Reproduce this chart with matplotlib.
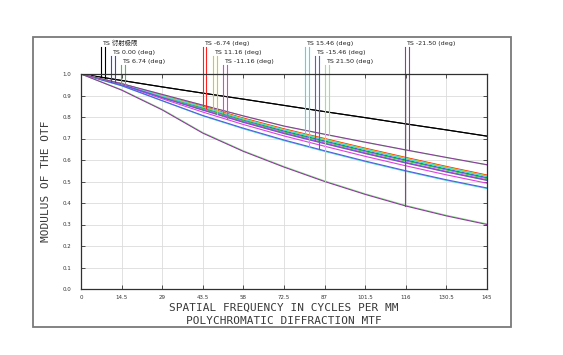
import numpy as np
import matplotlib
matplotlib.use('Agg')
import matplotlib.pyplot as plt
from matplotlib.patches import Rectangle

# spatial frequency samples (cycles/mm)
freq = [0, 14.5, 29, 43.5, 58, 72.5, 87, 101.5, 116, 130.5, 145]
xtick_labels = ['0', '14.5', '29', '43.5', '58', '72.5', '87', '101.5', '116', '130.5', '145']
ytick_labels = ['0.0', '0.1', '0.2', '0.3', '0.4', '0.5', '0.6', '0.7', '0.8', '0.9', '1.0']

# MTF values, tangential / sagittal per field
diff_t = [1.0, 0.970, 0.940, 0.911, 0.883, 0.854, 0.825, 0.797, 0.768, 0.740, 0.711]
diff_s = [1.0, 0.970, 0.940, 0.911, 0.883, 0.854, 0.825, 0.797, 0.768, 0.740, 0.711]
f000_t = [1.0, 0.953, 0.895, 0.841, 0.785, 0.734, 0.688, 0.642, 0.599, 0.557, 0.517]
f000_s = [1.0, 0.953, 0.894, 0.840, 0.784, 0.733, 0.687, 0.641, 0.598, 0.556, 0.516]
f674_t = [1.0, 0.954, 0.898, 0.846, 0.790, 0.740, 0.694, 0.649, 0.606, 0.564, 0.524]
f674_s = [1.0, 0.953, 0.894, 0.839, 0.783, 0.731, 0.685, 0.639, 0.596, 0.554, 0.514]
fm674_t = [1.0, 0.955, 0.900, 0.850, 0.795, 0.745, 0.700, 0.655, 0.612, 0.570, 0.530]
fm674_s = [1.0, 0.954, 0.899, 0.848, 0.792, 0.742, 0.697, 0.652, 0.609, 0.567, 0.527]
f1116_t = [1.0, 0.954, 0.899, 0.848, 0.792, 0.742, 0.697, 0.652, 0.609, 0.567, 0.527]
f1116_s = [1.0, 0.951, 0.891, 0.833, 0.776, 0.724, 0.677, 0.631, 0.587, 0.545, 0.506]
fm1116_t = [1.0, 0.952, 0.891, 0.834, 0.778, 0.726, 0.679, 0.633, 0.589, 0.547, 0.508]
fm1116_s = [1.0, 0.949, 0.885, 0.823, 0.765, 0.712, 0.664, 0.617, 0.573, 0.531, 0.492]
f1546_t = [1.0, 0.954, 0.898, 0.846, 0.790, 0.740, 0.694, 0.649, 0.606, 0.564, 0.524]
f1546_s = [1.0, 0.945, 0.875, 0.805, 0.745, 0.690, 0.640, 0.592, 0.547, 0.505, 0.467]
fm1546_t = [1.0, 0.951, 0.890, 0.832, 0.775, 0.723, 0.676, 0.630, 0.586, 0.544, 0.505]
fm1546_s = [1.0, 0.946, 0.876, 0.807, 0.748, 0.693, 0.643, 0.595, 0.550, 0.508, 0.470]
f2150_t = [1.0, 0.927, 0.836, 0.728, 0.643, 0.570, 0.503, 0.443, 0.389, 0.343, 0.303]
f2150_s = [1.0, 0.955, 0.905, 0.855, 0.805, 0.757, 0.719, 0.682, 0.646, 0.611, 0.577]
fm2150_t = [1.0, 0.925, 0.833, 0.725, 0.640, 0.567, 0.500, 0.440, 0.386, 0.340, 0.300]
fm2150_s = [1.0, 0.955, 0.905, 0.855, 0.805, 0.758, 0.720, 0.683, 0.647, 0.612, 0.578]

labels = ['TS 衍射极限', 'TS 0.00 (deg)', 'TS 6.74 (deg)', 'TS -6.74 (deg)', 'TS 11.16 (deg)',
          'TS -11.16 (deg)', 'TS 15.46 (deg)', 'TS -15.46 (deg)', 'TS 21.50 (deg)', 'TS -21.50 (deg)']
colors = ['#000000', '#3c3cff', '#3cc83c', '#ff2020', '#d2d200',
          '#e040e0', '#40e0e0', '#5a5adc', '#90e890', '#8c3c9c']
tang = [diff_t, f000_t, f674_t, fm674_t, f1116_t, fm1116_t, f1546_t, fm1546_t, f2150_t, fm2150_t]
sagi = [diff_s, f000_s, f674_s, fm674_s, f1116_s, fm1116_s, f1546_s, fm1546_s, f2150_s, fm2150_s]

# where the legend markers sit along the frequency axis
mark_x = [7.2, 10.8, 14.4, 43.5, 47.1, 50.7, 80.0, 83.6, 87.1, 115.7]
mark_top = [1.125, 1.084, 1.044]

W, H = 563, 355
fig = plt.figure(figsize=(W / 100, H / 100), dpi=100)
fig.patch.set_facecolor('white')

# outer frame
fig.add_artist(Rectangle((33 / W, 28 / H), 478 / W, 290 / H, transform=fig.transFigure,
                         fill=False, edgecolor='#7a7a7a', lw=1.3))

ax = fig.add_axes([81 / W, 66 / H, 406 / W, 215 / H])

fr = np.array(freq)
for i in range(len(labels)):
    ax.plot(fr, tang[i], color=colors[i], lw=0.8)
    ax.plot(fr, sagi[i], color=colors[i], lw=0.8)

# legend: label text and T/S drop lines down to the curves
for i, lab in enumerate(labels):
    top = mark_top[i % 3]
    x1 = mark_x[i]
    x2 = x1 + 1.3
    y1 = np.interp(x1, fr, tang[i])
    y2 = np.interp(x2, fr, sagi[i])
    ax.plot([x1, x1], [top, y1], color=colors[i], lw=0.8, clip_on=False)
    ax.plot([x2, x2], [top, y2], color=colors[i], lw=0.8, clip_on=False)
    ax.text(x1 + 0.4, top + 0.004, lab, fontsize=4.6, va='bottom', ha='left', color='#222222',
            family=['Liberation Sans Narrow', 'DejaVu Sans', 'Noto Sans CJK SC'])

ax.set_xlim(0, 145)
ax.set_ylim(0, 1.0)
ax.set_xticks(fr)
ax.set_xticklabels(xtick_labels)
ax.set_yticks(np.arange(11) / 10)
ax.set_yticklabels(ytick_labels)
ax.grid(True, color='#dcdcdc', lw=0.6)
ax.set_axisbelow(True)
ax.tick_params(direction='in', length=3, width=0.6, labelsize=4, colors='#333333',
               top=True, right=True, pad=4)
ax.tick_params(axis='y', pad=7)
for sp in ax.spines.values():
    sp.set_color('#303030')
    sp.set_linewidth(0.9)

mono = 'DejaVu Sans Mono'
fig.text(284 / W, 1 - 308 / H, 'SPATIAL FREQUENCY IN CYCLES PER MM', ha='center', va='center',
         fontsize=8.0, family=mono, color='#3a3a3a')
fig.text(284 / W, 1 - 321 / H, 'POLYCHROMATIC DIFFRACTION MTF', ha='center', va='center',
         fontsize=8.0, family=mono, color='#3a3a3a')
fig.text(46 / W, 1 - 181 / H, 'MODULUS OF THE OTF', ha='center', va='center', rotation=90,
         fontsize=8.0, family=mono, color='#3a3a3a')

fig.savefig('out.png', dpi=100, facecolor='white')
